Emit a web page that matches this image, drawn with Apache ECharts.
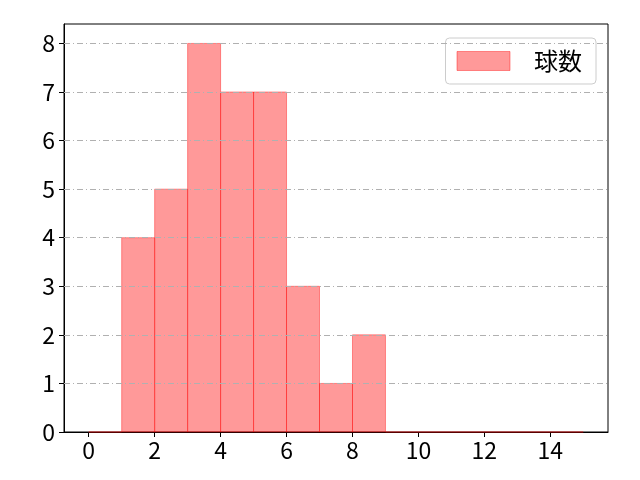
<!DOCTYPE html>
<html><head><meta charset="utf-8">
<script src="https://cdn.jsdelivr.net/npm/echarts@6/dist/echarts.min.js"></script>
<style>html,body{margin:0;padding:0;background:#fff}#c{width:640px;height:480px}</style>
</head><body><div id="c"></div>
<script>
const binEdges = [0,1,2,3,4,5,6,7,8,9,10,11,12,13,14,15];
const counts   = [0,4,5,8,7,7,3,1,2,0,0,0,0,0,0];
const xTicks = [0,2,4,6,8,10,12,14];
const yTicks = [0,1,2,3,4,5,6,7,8];
const seriesName = '球数';

const data = counts.map((c,i)=>[binEdges[i], binEdges[i+1], c]);
const FONT = '"Noto Sans CJK JP", "Noto Sans", sans-serif';
const chart = echarts.init(document.getElementById('c'), null, {renderer:'canvas'});
chart.setOption({
  animation:false,
  grid:{left:64, right:32, top:24, bottom:48, show:true, borderColor:'#000', borderWidth:1, backgroundColor:'transparent'},
  xAxis:{type:'value', min:-0.75, max:15.75,
    axisLine:{show:true, onZero:false, lineStyle:{color:'#000'}},
    axisTick:{show:true, customValues:xTicks, length:5, lineStyle:{color:'#000'}},
    axisLabel:{customValues:xTicks, color:'#000', fontSize:23, fontFamily:FONT, margin:7},
    splitLine:{show:false}},
  yAxis:{type:'value', min:0, max:8.4,
    axisLine:{show:true, onZero:false, lineStyle:{color:'#000'}},
    axisTick:{show:true, customValues:yTicks, length:5, lineStyle:{color:'#000'}},
    axisLabel:{customValues:yTicks, color:'#000', fontSize:23, fontFamily:FONT, margin:9},
    splitLine:{show:false}},
  legend:{right:44, top:38, orient:'vertical', padding:[11,14,11,11],
    borderColor:'#cccccc', borderWidth:1, borderRadius:4, backgroundColor:'rgba(255,255,255,0.8)',
    itemWidth:53, itemHeight:19,
    textStyle:{fontSize:24, fontFamily:FONT, color:'#000', padding:[0,0,0,19]},
    data:[{name:seriesName, icon:'rect', itemStyle:{color:'rgba(255,0,0,0.4)', borderColor:'rgba(255,0,0,0.4)', borderWidth:1}}]},
  series:[
    {type:'line', name:'_grid', silent:true, data:[], markLine:{silent:true, symbol:'none', label:{show:false},
      lineStyle:{color:'#b0b0b0', width:1, type:[6,3,1,3]},
      data:yTicks.filter(v=>v>0).map(v=>({yAxis:v}))}},
    {type:'custom', name:seriesName, data:data, encode:{x:[0,1], y:2},
      renderItem:function(params, api){
        const p0 = api.coord([api.value(0), api.value(2)]);
        const p1 = api.coord([api.value(1), 0]);
        return {type:'rect', shape:{x:p0[0], y:p0[1], width:p1[0]-p0[0], height:p1[1]-p0[1]},
          style:{fill:'rgba(255,0,0,0.4)', stroke:'rgba(255,0,0,0.4)', lineWidth:1}};
      },
      itemStyle:{color:'rgba(255,0,0,0.4)'}}
  ]
});
</script></body></html>
